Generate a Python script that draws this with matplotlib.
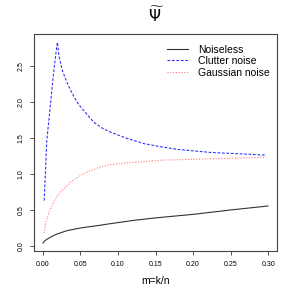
import numpy as np
import matplotlib
matplotlib.use("Agg")
import matplotlib.pyplot as plt

plt.rcParams['font.family'] = ['Liberation Sans', 'DejaVu Sans']

# values (x = m = k/n)
x_noiseless = [0.0004, 0.002, 0.005, 0.0107, 0.015, 0.02, 0.033, 0.05, 0.0775, 0.09, 0.122, 0.15,
               0.201, 0.25, 0.2995]
y_noiseless = [0.04, 0.065, 0.09, 0.125, 0.148, 0.17, 0.215, 0.25, 0.29, 0.31, 0.357, 0.39,
               0.44, 0.50, 0.555]

x_clutter = [0.002, 0.0053, 0.0107, 0.0138, 0.0174, 0.0195, 0.0218, 0.0262, 0.033, 0.0396, 0.046,
             0.055, 0.0686, 0.08, 0.09, 0.11, 0.1345, 0.155, 0.179, 0.2, 0.2237, 0.26, 0.297]
y_clutter = [0.63, 1.45, 2.01, 2.34, 2.66, 2.825, 2.62, 2.43, 2.25, 2.11, 1.99,
             1.87, 1.71, 1.63, 1.58, 1.50, 1.42, 1.38, 1.34, 1.32, 1.297, 1.28, 1.26]

x_gauss = [0.0017, 0.004, 0.0084, 0.014, 0.0218, 0.0374, 0.0552, 0.0775, 0.09, 0.1087, 0.157,
           0.224, 0.297]
y_gauss = [0.18, 0.32, 0.47, 0.60, 0.73, 0.89, 1.01, 1.10, 1.13, 1.15, 1.19,
           1.21, 1.23]

x_ticks = [0.00, 0.05, 0.10, 0.15, 0.20, 0.25, 0.30]
y_ticks = [0.0, 0.5, 1.0, 1.5, 2.0, 2.5]

fig = plt.figure(figsize=(2.94, 2.94), dpi=100)
ax = fig.add_axes([34/294, 43/294, 243/294, 217/294])

ax.plot(x_noiseless, y_noiseless, color='#333333', lw=0.8, ls='-', label='Noiseless')
ax.plot(x_clutter, y_clutter, color='#3333ff', lw=0.8, ls=(0, (2.5, 1.5)), label='Clutter noise')
ax.plot(x_gauss, y_gauss, color='#ff7777', lw=0.8, ls=(0, (1, 1.5)), label='Gaussian noise')

ax.set_xlim(-0.0116, 0.3116)
ax.set_ylim(-0.069, 2.94)
ax.set_xticks(x_ticks)
ax.set_xticklabels(['%.2f' % v for v in x_ticks])
ax.set_yticks(y_ticks)
ax.set_yticklabels(['%.1f' % v for v in y_ticks], rotation=90, va='center')
ax.tick_params(labelsize=5, length=3, width=0.6, color='#333333', pad=4)
for s in ax.spines.values():
    s.set_linewidth(0.8)
    s.set_color('#444444')

ax.set_xlabel('m=k/n', fontsize=7.5, labelpad=6)
fig.text(155.5/294, 1 - 15/294, r'$\widetilde{\Psi}$', ha='center', va='center', fontsize=11)

ax.legend(loc='upper right', frameon=False, fontsize=7.5, handlelength=2.0,
          handletextpad=0.95, labelspacing=0.15, borderaxespad=0.3,
          bbox_to_anchor=(1.0, 0.985))

fig.savefig('out.png', dpi=100)
